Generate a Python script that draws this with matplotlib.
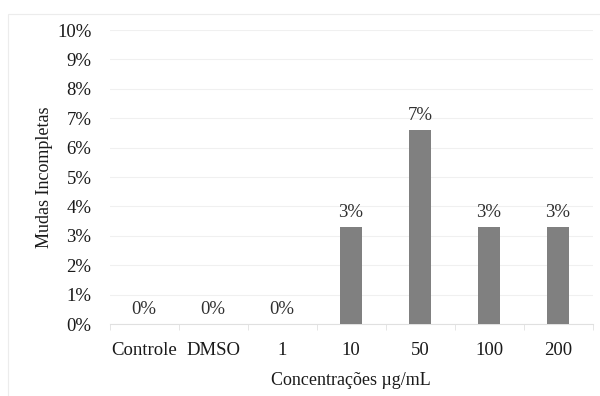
import matplotlib.pyplot as plt
from matplotlib.patches import Rectangle
from matplotlib.ticker import PercentFormatter

plt.rcParams['font.family'] = ['Liberation Serif', 'DejaVu Serif']

categorias = ['Controle', 'DMSO', '1', '10', '50', '100', '200']
mudas = [0.0, 0.0, 0.0, 3.3, 6.6, 3.3, 3.3]
rotulos = ['0%', '0%', '0%', '3%', '7%', '3%', '3%']

fig = plt.figure(figsize=(6, 3.96), dpi=100)
ax = fig.add_axes([0.1825, 0.1818, 0.805, 0.7424])

# moldura clara em volta da figura
fig.patches.append(Rectangle((8 / 600, -0.2), 1.2, 1.2 - 14 / 396,
                             transform=fig.transFigure, fill=False,
                             edgecolor='#ececec', linewidth=0.8))

x = range(len(categorias))
bars = ax.bar(x, mudas, width=0.32, color='#808080', zorder=3)
for b, r in zip(bars, rotulos):
    ax.text(b.get_x() + b.get_width() / 2, b.get_height() + 0.2, r,
            ha='center', va='bottom', fontsize=13.5, color='#303030')

ax.set_xlim(-0.5, len(categorias) - 0.5)
ax.set_ylim(0, 10)
ax.set_yticks(range(0, 11))
ax.yaxis.set_major_formatter(PercentFormatter(decimals=0))
ax.grid(axis='y', color='#f0f0f0', linewidth=0.8, zorder=0)

ax.set_xticks(list(x))
ax.set_xticklabels(categorias)
ax.set_xticks([i + 0.5 for i in range(-1, len(categorias))], minor=True)
ax.tick_params(axis='x', which='major', length=0, pad=13, labelsize=13.5, labelcolor='#1a1a1a')
ax.tick_params(axis='x', which='minor', length=4, color='#e0e0e0')
ax.tick_params(axis='y', length=0, pad=13, labelsize=13.5, labelcolor='#1a1a1a')

for s in ['top', 'right', 'left']:
    ax.spines[s].set_visible(False)
ax.spines['bottom'].set_color('#e0e0e0')

ax.set_xlabel('Concentrações µg/mL', fontsize=13, color='#1a1a1a', labelpad=9)
ax.set_ylabel('Mudas Incompletas', fontsize=13, color='#1a1a1a', labelpad=3)

fig.savefig('out.png', dpi=100)
